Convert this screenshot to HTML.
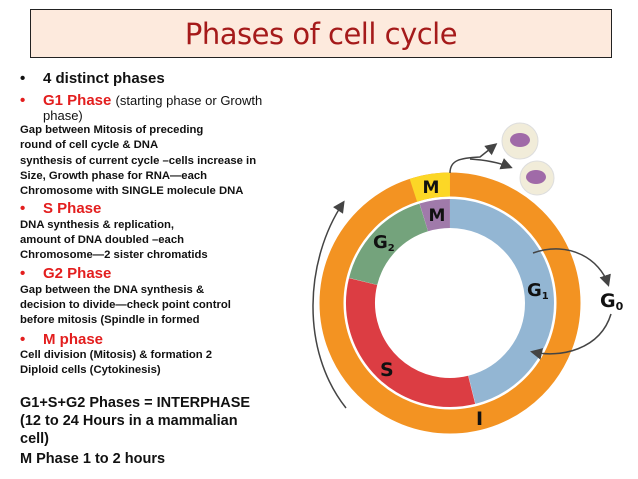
<!DOCTYPE html>
<html><head><meta charset="utf-8"><style>
body{margin:0;width:638px;height:479px;background:#fff;position:relative;overflow:hidden;font-family:"Liberation Sans",Arial,sans-serif}
.t{position:absolute;white-space:nowrap;font-weight:bold;color:#111}
.s{font-size:11.3px;left:20px}
.h{font-size:15px;left:20px}
.r{color:#e31e1e}
.b{display:inline-block;width:23px;color:#111}
.r .b{color:#e31e1e}
.k{font-size:14.5px;left:20px}
</style></head><body>
<div style="position:absolute;left:30px;top:9px;width:580px;height:47px;background:#fdeadd;border:1.5px solid #222"></div>
<div style="position:absolute;left:30px;top:9px;width:582px;height:50px;text-align:center;line-height:50px;font-family:'DejaVu Sans','Liberation Sans',sans-serif;font-size:29px;color:#a51a1a;letter-spacing:-0.5px">Phases of cell cycle</div>

<div class="t h" style="top:70px"><span class="b">•</span>4 distinct phases</div>
<div class="t h r" style="top:92px"><span class="b">•</span>G1 Phase <span style="font-weight:normal;color:#111;font-size:13px">(starting phase or Growth</span></div>
<div class="t" style="top:108px;left:43px;font-weight:normal;font-size:13px">phase)</div>
<div class="t s" style="top:124px">Gap between Mitosis of preceding</div>
<div class="t s" style="top:139px">round of cell cycle &amp; DNA</div>
<div class="t s" style="top:155px">synthesis of current cycle –cells increase in</div>
<div class="t s" style="top:170px">Size, Growth phase for RNA—each</div>
<div class="t s" style="top:185px">Chromosome with SINGLE molecule DNA</div>
<div class="t h r" style="top:200px"><span class="b">•</span>S Phase</div>
<div class="t s" style="top:219px">DNA  synthesis &amp; replication,</div>
<div class="t s" style="top:234px">amount of DNA doubled –each</div>
<div class="t s" style="top:249px">Chromosome—2 sister chromatids</div>
<div class="t h r" style="top:265px"><span class="b">•</span>G2 Phase</div>
<div class="t s" style="top:284px">Gap between the DNA synthesis &amp;</div>
<div class="t s" style="top:299px">decision to divide—check point control</div>
<div class="t s" style="top:314px">before mitosis (Spindle in formed</div>
<div class="t h r" style="top:331px"><span class="b">•</span>M phase</div>
<div class="t s" style="top:349px">Cell division (Mitosis) &amp; formation 2</div>
<div class="t s" style="top:364px">Diploid cells (Cytokinesis)</div>
<div class="t k" style="top:395px">G1+S+G2 Phases = INTERPHASE</div>
<div class="t k" style="top:413px">(12 to 24 Hours in a mammalian</div>
<div class="t k" style="top:431px">cell)</div>
<div class="t k" style="top:451px">M Phase 1 to 2 hours</div>

<svg width="638" height="479" style="position:absolute;left:0;top:0" xmlns="http://www.w3.org/2000/svg">
<defs><marker id="a" markerWidth="8" markerHeight="8" refX="6" refY="4" orient="auto"><path d="M0,0 L8,4 L0,8 Z" fill="#444"/></marker></defs>
<circle cx="450" cy="303" r="118.5" fill="none" stroke="#f39322" stroke-width="24"/>
<circle cx="450" cy="303" r="118.5" fill="none" stroke="#fcd726" stroke-width="24" pathLength="360" stroke-dasharray="18 360" transform="rotate(252 450 303)"/>
<circle cx="450" cy="303" r="89.5" fill="none" stroke="#93b6d3" stroke-width="29" pathLength="360" stroke-dasharray="166 360" transform="rotate(270 450 303)"/>
<circle cx="450" cy="303" r="89.5" fill="none" stroke="#dc3d43" stroke-width="29" pathLength="360" stroke-dasharray="118 360" transform="rotate(76 450 303)"/>
<circle cx="450" cy="303" r="89.5" fill="none" stroke="#74a37c" stroke-width="29" pathLength="360" stroke-dasharray="59 360" transform="rotate(194 450 303)"/>
<circle cx="450" cy="303" r="89.5" fill="none" stroke="#a07aaa" stroke-width="29" pathLength="360" stroke-dasharray="17 360" transform="rotate(253 450 303)"/>
<g font-family="DejaVu Sans,Liberation Sans,sans-serif" font-weight="bold" fill="#111">
<text x="431" y="193" font-size="17" text-anchor="middle">M</text>
<text x="437" y="221" font-size="17" text-anchor="middle">M</text>
<text x="373" y="248" font-size="18">G<tspan font-size="10" dy="3">2</tspan></text>
<text x="527" y="296" font-size="18">G<tspan font-size="10" dy="3">1</tspan></text>
<text x="600" y="307" font-size="19">G<tspan font-size="11" dy="3">0</tspan></text>
<text x="380" y="376" font-size="19">S</text>
<text x="476" y="425" font-size="19">I</text>
</g>
<path d="M450,173 C450,160 460,158 480,157 L495,145" fill="none" stroke="#444" stroke-width="1.5" marker-end="url(#a)"/>
<path d="M470,159 C485,160 500,163 510,167" fill="none" stroke="#444" stroke-width="1.5" marker-end="url(#a)"/>
<circle cx="520" cy="141" r="18" fill="#f1ecd9" stroke="#ddd"/>
<ellipse cx="520" cy="140" rx="10" ry="7" fill="#a06aa8"/>
<circle cx="537" cy="178" r="17" fill="#f1ecd9" stroke="#ddd"/>
<ellipse cx="536" cy="177" rx="10" ry="7" fill="#a06aa8"/>
<path d="M533,253 C570,240 600,260 608,284" fill="none" stroke="#444" stroke-width="1.5" marker-end="url(#a)"/>
<path d="M611,314 C600,350 560,358 533,352" fill="none" stroke="#444" stroke-width="1.5" marker-end="url(#a)"/>
<path d="M346,408 C300,350 305,260 343,203" fill="none" stroke="#444" stroke-width="1.5" marker-end="url(#a)"/>
</svg>
</body></html>
